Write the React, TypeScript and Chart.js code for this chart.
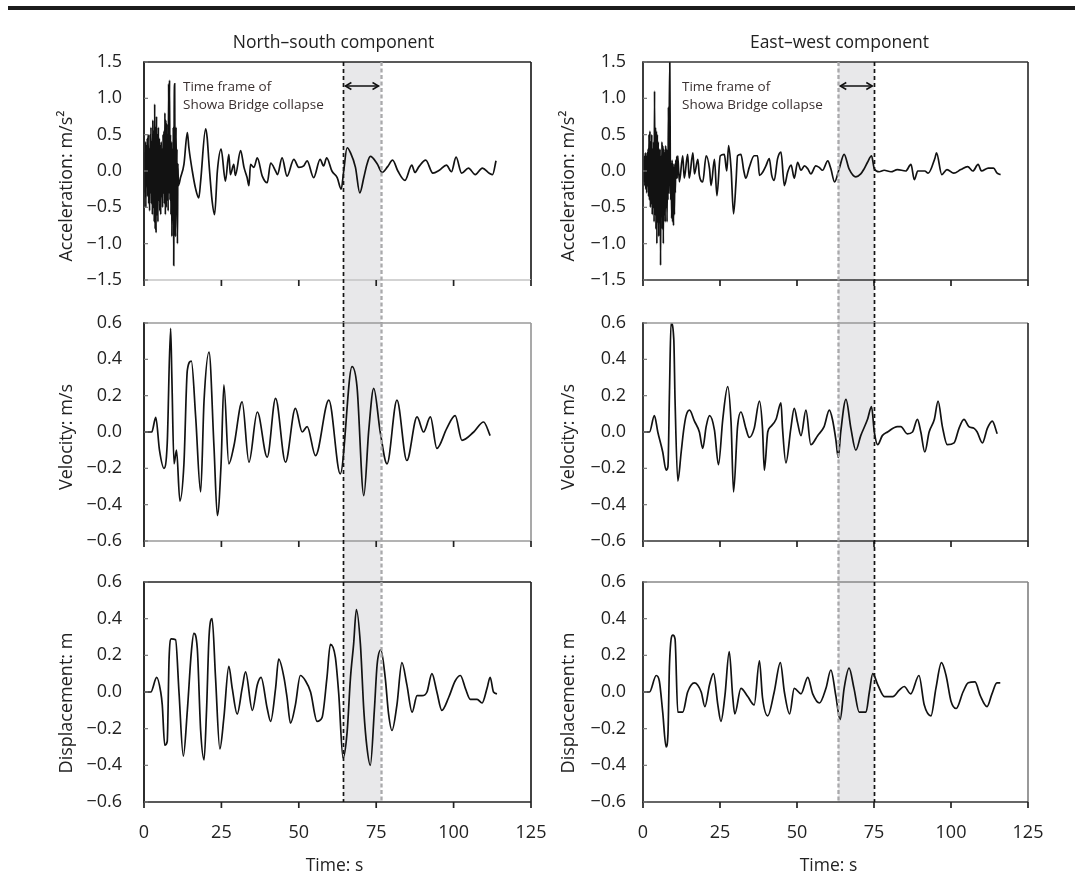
import React, { useEffect, useRef } from "react";
import { Chart, registerables } from "chart.js";

Chart.register(...registerables);

const FONT = "'Open Sans', 'DejaVu Sans', sans-serif";
Chart.defaults.font.family = FONT;

// ---------- axes / tick labels ----------
const timeTicks = [0, 25, 50, 75, 100, 125];
const accTicks = [-1.5, -1.0, -0.5, 0, 0.5, 1.0, 1.5];
const velTicks = [-0.6, -0.4, -0.2, 0, 0.2, 0.4, 0.6];
const dispTicks = [-0.6, -0.4, -0.2, 0, 0.2, 0.4, 0.6];

const columnTitles = ["North\u2013south component", "East\u2013west component"];
const rowTitles = ["Acceleration: m/s\u00b2", "Velocity: m/s", "Displacement: m"];
const timeTitle = "Time: s";
const noteLines = ["Time frame of", "Showa Bridge collapse"];

// time frame of collapse (s)
const nsCollapse = [64.4, 76.4];
const ewCollapse = [63.4, 75.1];

// ---------- North-south series ----------
const nsAccT = [0,0.15,0.3,0.45,0.6,0.75,0.9,1.05,1.2,1.35,1.5,1.65,1.8,1.95,2.1,2.25,2.4,2.55,2.7,2.85,3.0,3.15,3.3,3.45,3.6,3.75,3.9,4.05,4.2,4.35,4.5,4.65,4.8,4.95,5.1,5.25,5.4,5.55,5.7,5.85,6.0,6.15,6.3,6.45,6.6,6.75,6.9,7.05,7.2,7.35,7.5,7.65,7.8,7.95,8.1,8.25,8.4,8.55,8.7,8.85,9.0,9.15,9.3,9.45,9.6,9.75,9.9,10.05,10.2,10.35,10.5,10.65,10.8,10.95,11.1,
  11.8,12.9,14.0,14.5,15.6,16.7,17.7,18.3,19.9,20.4,21.0,22.0,22.8,23.7,24.9,26.3,27.4,27.9,29.0,29.5,31.2,32.3,33.3,33.9,34.4,35.5,36.6,38.2,39.8,40.9,42.5,43.1,44.6,46.2,48.4,50.0,51.6,52.7,54.8,56.9,58.0,59.0,60.7,62.4,63.7,64.5,65.6,66.7,68.3,69.7,71.0,72.0,73.1,75.3,76.9,78.7,80.3,82.0,84.3,86.5,87.5,88.8,91.0,93.3,95.4,97.7,99.3,100.8,102.6,104.8,107.0,109.3,111.5,112.6,113.7];
const nsAccV = [0,0.25,-0.3,0.4,-0.5,0.35,-0.2,0.45,-0.35,0.5,-0.45,0.3,-0.55,0.5,-0.3,0.6,-0.45,0.4,-0.6,0.7,-0.5,0.55,-0.7,0.92,-0.8,0.6,-0.85,0.75,-0.6,0.5,-0.7,0.6,-0.4,0.45,-0.55,0.35,-0.6,0.4,-0.35,0.3,-0.5,0.5,-0.3,0.55,-0.45,0.8,-0.6,0.7,-0.5,0.65,-0.4,0.5,-0.55,1.2,-0.3,1.25,-0.4,0.5,-0.6,0.4,-0.9,0.3,-0.5,0.6,-1.3,0.8,1.2,-0.5,-0.9,0.6,-0.4,0.3,-1.0,0.1,-0.2,
  -0.09,0.09,0.53,0.32,0.0,-0.25,-0.37,-0.14,0.58,0.46,0.1,-0.41,-0.6,0.0,0.3,-0.14,0.23,-0.05,0.09,-0.06,0.28,0.05,-0.09,-0.2,0.09,0.05,0.18,-0.07,-0.16,0.11,0.0,-0.05,0.18,-0.07,0.16,0.05,0.07,0.14,-0.09,0.16,0.07,0.18,0.0,-0.09,-0.25,0.0,0.32,0.25,0.05,-0.3,-0.09,0.09,0.2,0.1,-0.02,0.06,0.15,0.0,-0.13,0.08,-0.02,0.06,0.15,-0.03,0.01,0.08,-0.01,0.19,-0.03,0.04,-0.05,0.04,-0.03,-0.05,0.14];

const nsVelT = [0,2.5,3.8,5.0,6.45,7.5,8.6,9.0,9.7,10.5,11.6,12.9,14.0,15.3,16.7,18.3,19.4,21.0,22.6,23.7,24.9,25.8,27.4,29.0,31.7,33.9,36.6,39.8,42.5,45.7,48.9,51.1,52.7,55.4,59.7,63.4,67.2,68.8,71.0,72.6,74.2,76.3,78.5,81.7,84.9,88.2,90.3,92.5,94.6,97.8,100.5,102.7,106.5,109.7,111.8];
const nsVelV = [0,0,0.08,-0.1,-0.2,-0.065,0.57,0.3,-0.175,-0.1,-0.38,-0.175,0.34,0.39,0.08,-0.33,0.175,0.44,-0.08,-0.46,-0.175,0.26,-0.175,-0.08,0.166,-0.166,0.11,-0.138,0.185,-0.166,0.13,0,0.03,-0.13,0.175,-0.23,0.36,0.25,-0.35,0.01,0.24,0,-0.175,0.175,-0.157,0.083,0,0.083,-0.09,0.02,0.09,-0.046,0,0.055,-0.02];

const nsDispT = [0,2.2,4.1,5.4,5.9,6.7,7.5,8.1,8.8,10.2,11.3,12.7,14.0,15.3,16.1,17.2,18.3,19.4,20.2,21.0,22.0,23.1,24.5,25.8,27.4,28.5,30.1,31.7,32.8,35.0,36.6,37.8,39.8,40.9,42.5,43.5,45.2,46.2,47.3,48.9,50.5,52.2,53.8,55.9,57.5,59.1,60.2,61.8,62.9,64.3,65.6,66.7,67.7,68.6,69.9,71.0,72.0,73.1,74.4,75.3,76.5,77.9,79.0,80.1,81.7,83.3,84.9,86.6,88.2,89.8,91.4,93.0,94.6,96.2,98.4,100.5,102.2,103.8,105.4,107.6,109.2,110.8,111.8,112.9,114.0];
const nsDispV = [0,0,0.08,0,-0.07,-0.29,-0.27,0.18,0.29,0.285,0,-0.35,-0.1,0.22,0.32,0.24,-0.21,-0.37,-0.1,0.3,0.4,0.08,-0.31,-0.14,0.14,0.02,-0.12,0.02,0.11,-0.1,0.04,0.08,-0.09,-0.16,0.02,0.18,0.08,-0.03,-0.17,-0.07,0.09,0.06,0,-0.16,-0.14,0.08,0.26,0.19,-0.01,-0.36,-0.22,0.08,0.26,0.45,0.26,-0.1,-0.3,-0.4,-0.1,0.15,0.23,0.08,-0.12,-0.21,-0.07,0.16,0.04,-0.11,-0.02,-0.02,0,0.1,0,-0.1,-0.03,0.06,0.09,0.02,-0.04,-0.04,-0.06,0.02,0.08,0,-0.01];

// ---------- East-west series ----------
const ewAccT = [0,0.15,0.3,0.45,0.6,0.75,0.9,1.05,1.2,1.35,1.5,1.65,1.8,1.95,2.1,2.25,2.4,2.55,2.7,2.85,3.0,3.15,3.3,3.45,3.6,3.75,3.9,4.05,4.2,4.35,4.5,4.65,4.8,4.95,5.1,5.25,5.4,5.55,5.7,5.85,6.0,6.15,6.3,6.45,6.6,6.75,6.9,7.05,7.2,7.35,7.5,7.65,7.8,7.95,8.1,8.25,8.4,8.55,8.7,8.85,9.0,9.15,9.3,9.45,9.6,9.75,9.9,10.05,10.2,10.35,10.5,10.65,10.8,10.95,11.1,
  11.3,11.8,12.9,13.4,14.5,15.0,16.2,16.7,17.8,18.3,19.4,20.5,21.6,22.1,23.2,24.0,25.1,26.4,27.2,27.8,28.6,29.4,30.2,30.7,31.8,32.7,33.4,34.5,36.1,37.2,37.8,38.8,39.9,41.0,41.8,42.6,43.7,44.8,45.9,47.0,48.1,49.1,50.2,51.3,52.4,53.5,54.5,56.1,57.2,58.3,60.0,61.0,62.2,63.7,65.3,66.9,69.1,70.7,71.8,72.9,74.2,75.1,76.7,78.3,80.5,82.6,85.3,87.0,88.1,89.2,91.5,92.6,94.8,95.3,97.0,98.7,100.9,103.2,105.4,107.1,108.8,109.9,112.1,113.8,115.0,116.1];
const ewAccV = [0,0.15,-0.15,0.2,-0.2,0.25,-0.25,0.2,-0.3,0.25,-0.2,0.3,-0.35,0.5,-0.4,0.55,-0.5,0.4,-0.45,0.5,-0.6,0.3,-0.5,0.4,-0.7,1.1,-0.6,0.6,-0.8,0.55,-1.0,0.5,-0.7,0.4,-0.9,0.3,-0.7,0.3,-1.3,0.2,-0.6,0.4,-0.8,0.35,-1.0,0.3,-0.6,0.25,-0.7,0.35,-0.5,0.3,-0.7,0.2,-0.4,0.88,-0.3,0.9,1.5,0.2,-0.4,0.1,-0.65,0.15,-0.7,0.1,-0.75,0.05,-0.6,0.1,-0.3,0.15,-0.1,0.2,-0.1,
  0.21,-0.15,0.21,-0.1,0.23,-0.1,0.25,-0.04,0.16,-0.06,-0.15,0.21,0.03,-0.2,0.16,-0.34,0.21,0.23,0,0.35,0.03,-0.59,-0.15,0.21,0.23,0.01,-0.1,0.05,0.21,0.21,-0.06,-0.02,0.07,0.17,-0.06,-0.13,0.17,0.26,-0.2,-0.01,0.08,-0.1,0.12,0.01,0.07,0.03,-0.04,0.07,0.05,0.01,0.14,0.03,-0.15,0.03,0.23,0.03,-0.08,-0.04,0.03,0.12,0.21,0.03,-0.01,0.01,-0.01,0.02,0,0.09,-0.12,0,0,-0.03,0.18,0.25,-0.05,0.02,-0.03,0.02,0.06,0,0.09,0,0.04,0.04,-0.03,-0.05];

const ewVelT = [0,2.1,3.7,4.8,6.4,7.5,8.1,8.6,9.1,10.0,10.4,11.3,12.4,13.2,14.0,15.1,16.7,18.3,19.4,20.5,21.6,23.2,24.5,25.9,27.5,28.6,29.4,30.7,31.8,33.4,34.5,36.1,37.8,38.8,39.4,40.5,41.5,43.2,44.8,45.3,46.4,48.0,49.1,50.2,51.3,52.9,54.5,56.7,58.8,60.5,61.5,62.6,63.4,64.2,65.9,67.5,69.1,70.7,72.9,74.2,75.1,76.2,77.7,79.4,82.6,83.7,85.8,87.5,89.1,90.2,91.5,92.9,94.6,95.8,97.2,98.8,101.0,102.6,104.2,105.8,107.5,108.5,110.2,111.8,113.4,115.0];
const ewVelV = [0,0,0.09,0,-0.11,-0.21,-0.19,0.22,0.6,0.51,0.18,-0.27,-0.11,0.01,0.09,0.12,0.06,0,-0.09,0.03,0.09,0.01,-0.18,0.07,0.25,0.05,-0.33,0.03,0.11,0.02,-0.03,0.02,0.17,0.02,-0.21,0,0.03,0.07,0.16,0.02,-0.17,0.02,0.13,0.05,-0.02,0.12,-0.07,-0.02,0.03,0.12,0.07,-0.04,-0.14,0,0.18,0.02,-0.1,-0.02,0.07,0.14,0,-0.07,-0.02,0,0.03,0.03,-0.01,0,0.07,0,-0.11,0,0.07,0.17,0.03,-0.07,-0.06,0.02,0.07,0.03,0.02,0,-0.06,0.02,0.06,-0.01];

const ewDispT = [0,2.1,4.3,5.3,6.4,7.5,8.1,8.6,9.7,10.4,11.3,12.9,14.5,16.7,18.9,20.1,21.6,22.9,24.3,25.3,26.6,28.0,29.1,29.8,31.8,34.0,36.1,37.8,38.8,40.5,42.6,44.6,45.9,47.6,49.1,51.3,53.5,55.1,57.3,59.4,61.0,62.6,64.0,65.3,66.9,68.5,70.2,72.4,73.5,74.6,76.2,78.4,81.1,83.2,84.8,86.9,89.6,91.3,93.5,95.1,96.9,98.4,100.0,101.7,103.9,105.6,107.8,109.5,111.7,113.3,114.9,116.0];
const ewDispV = [0,0,0.09,0.06,-0.11,-0.3,-0.23,0.15,0.31,0.29,-0.11,-0.11,0,0.05,0,-0.08,0.04,0.1,-0.07,-0.16,-0.02,0.22,-0.02,-0.12,0.02,-0.025,-0.07,0.17,-0.03,-0.13,0,0.16,0,-0.12,0.02,-0.01,0.08,-0.01,-0.06,0.02,0.12,-0.02,-0.15,0.02,0.13,0.02,-0.11,-0.11,0,0.1,0.04,-0.025,-0.025,0.01,0.03,-0.01,0.09,-0.07,-0.13,0.02,0.16,0.09,-0.05,-0.09,0,0.05,0.055,-0.02,-0.08,-0.01,0.05,0.05];

// ---------- layout (pixels) ----------
const COLS = [
  { left: 0, w: 560, yAxisW: 144, padR: 29, yTickPad: 22, yTitleX: 67, titleDx: -4, xTitleDx: -3,
    win: nsCollapse, dashKinds: ["black", "grey"] },
  { left: 540, w: 535, yAxisW: 103, padR: 47, yTickPad: 17, yTitleX: 29, titleDx: 4, xTitleDx: -7,
    win: ewCollapse, dashKinds: ["grey", "black"] },
];
const ROWS = [
  { top: 20, h: 303, padT: 42, xAxisH: 43, ticks: accTicks, yDy: 15, extend: true },
  { top: 305, h: 277, padT: 18, xAxisH: 41, ticks: velTicks, yDy: 5, extend: true },
  { top: 564, h: 330, padT: 18, xAxisH: 92, ticks: dispTicks, yDy: 11, extend: false },
];
const BORDERS = [
  [["#222", "#222", "#c4c4c4", "#222"], ["#333", "#333", "#333", "#333"]],
  [["#9a9a9a", "#9a9a9a", "#9a9a9a", "#222"], ["#999", "#333", "#333", "#333"]],
  [["#222", "#222", "#222", "#222"], ["#888", "#888", "#333", "#333"]],
];
const SERIES = [
  [[nsAccT, nsAccV], [ewAccT, ewAccV]],
  [[nsVelT, nsVelV], [ewVelT, ewVelV]],
  [[nsDispT, nsDispV], [ewDispT, ewDispV]],
];

const TEXT = "#222";
const TICK_SIZE = 18;
const TITLE_SIZE = 17.5;

function fmtY(v: number) {
  const s = Math.abs(v) < 1e-9 ? "0.0" : v.toFixed(1);
  return s.replace("-", "\u2212");
}

function line(ctx: CanvasRenderingContext2D, x1: number, y1: number, x2: number, y2: number, color: string, w: number) {
  ctx.save();
  ctx.strokeStyle = color;
  ctx.lineWidth = w;
  ctx.beginPath();
  ctx.moveTo(x1, y1);
  ctx.lineTo(x2, y2);
  ctx.stroke();
  ctx.restore();
}

function makeDeco(p: any) {
  return {
    id: "deco",
    beforeDatasetsDraw(chart: any) {
      const { ctx, chartArea: a } = chart;
      const x = chart.scales.x;
      const x0 = x.getPixelForValue(p.win[0]);
      const x1 = x.getPixelForValue(p.win[1]);
      const yb = p.extend ? chart.height : a.bottom;
      ctx.save();
      ctx.fillStyle = "#e8e8ea";
      ctx.fillRect(x0, a.top, x1 - x0, yb - a.top);
      ctx.restore();
    },
    afterDatasetsDraw(chart: any) {
      const { ctx, chartArea: a } = chart;
      const x = chart.scales.x;
      const y = chart.scales.y;
      const yb = p.extend ? chart.height : a.bottom;
      // borders
      const [bt, br, bb, bl] = p.border;
      line(ctx, a.left, a.top, a.right, a.top, bt, 1.7);
      line(ctx, a.right, a.top, a.right, a.bottom, br, 1.7);
      line(ctx, a.left, a.bottom, a.right, a.bottom, bb, 1.7);
      line(ctx, a.left, a.top - 0.8, a.left, a.bottom + 0.8, bl, 1.9);
      // tick marks
      timeTicks.forEach((t) => {
        const px = x.getPixelForValue(t);
        line(ctx, px, a.bottom, px, a.bottom + 6, "#222", 1.7);
      });
      p.ticks.forEach((v: number) => {
        const py = y.getPixelForValue(v);
        line(ctx, a.left, py, a.left + 4, py, "#777", 1.2);
      });
      // dashed collapse lines
      p.win.forEach((t: number, i: number) => {
        const px = Math.round(x.getPixelForValue(t)) + 0.5;
        ctx.save();
        if (p.dashKinds[i] === "black") {
          ctx.strokeStyle = "#141414";
          ctx.lineWidth = 1.7;
          ctx.setLineDash([4, 3]);
        } else {
          ctx.strokeStyle = "#a9a9ab";
          ctx.lineWidth = 2.3;
          ctx.setLineDash([4, 2.5]);
        }
        ctx.beginPath();
        ctx.moveTo(px, a.top);
        ctx.lineTo(px, yb);
        ctx.stroke();
        ctx.restore();
      });
      // y title
      ctx.save();
      ctx.fillStyle = TEXT;
      ctx.textAlign = "center";
      ctx.textBaseline = "middle";
      ctx.font = `${TICK_SIZE}px ${FONT}`;
      ctx.translate(p.yTitleX, (a.top + a.bottom) / 2 + p.yDy);
      ctx.rotate(-Math.PI / 2);
      ctx.fillText(p.yTitle, 0, 0);
      ctx.restore();

      const cx = (a.left + a.right) / 2;
      if (p.title) {
        ctx.save();
        ctx.fillStyle = TEXT;
        ctx.textAlign = "center";
        ctx.textBaseline = "middle";
        ctx.font = `${TITLE_SIZE}px ${FONT}`;
        ctx.fillText(p.title, cx + p.titleDx, a.top - 19);
        ctx.restore();
        // annotation
        ctx.save();
        ctx.fillStyle = "#3a3030";
        ctx.textAlign = "left";
        ctx.textBaseline = "middle";
        ctx.font = `13.5px ${FONT}`;
        ctx.fillText(noteLines[0], a.left + 39, a.top + 25);
        ctx.fillText(noteLines[1], a.left + 39, a.top + 43);
        ctx.restore();
        // arrow
        const x0 = x.getPixelForValue(p.win[0]) + 2;
        const x1 = x.getPixelForValue(p.win[1]) - 2;
        const ay = a.top + 24;
        line(ctx, x0, ay, x1, ay, "#111", 1.5);
        ctx.save();
        ctx.strokeStyle = "#111";
        ctx.lineWidth = 1.5;
        ctx.beginPath();
        ctx.moveTo(x0 + 6, ay - 3.5);
        ctx.lineTo(x0, ay);
        ctx.lineTo(x0 + 6, ay + 3.5);
        ctx.moveTo(x1 - 6, ay - 3.5);
        ctx.lineTo(x1, ay);
        ctx.lineTo(x1 - 6, ay + 3.5);
        ctx.stroke();
        ctx.restore();
      }
      if (p.xTitle) {
        ctx.save();
        ctx.fillStyle = TEXT;
        ctx.textAlign = "center";
        ctx.textBaseline = "middle";
        ctx.font = `${TITLE_SIZE}px ${FONT}`;
        ctx.fillText(p.xTitle, cx + p.xTitleDx, a.bottom + 64);
        ctx.restore();
      }
    },
  };
}

const PANELS: any[] = [];
ROWS.forEach((r, ri) => {
  COLS.forEach((c, ci) => {
    PANELS.push({
      left: c.left, top: r.top, w: c.w, h: r.h,
      padT: r.padT, padR: c.padR, xAxisH: r.xAxisH, yAxisW: c.yAxisW, yTickPad: c.yTickPad,
      ticks: r.ticks, yDy: r.yDy, extend: r.extend,
      yTitle: rowTitles[ri], yTitleX: c.yTitleX,
      title: ri === 0 ? columnTitles[ci] : null, titleDx: c.titleDx,
      xTitle: ri === 2 ? timeTitle : null, xTitleDx: c.xTitleDx,
      showX: ri === 2,
      win: c.win, dashKinds: c.dashKinds,
      border: BORDERS[ri][ci],
      T: SERIES[ri][ci][0], V: SERIES[ri][ci][1],
    });
  });
});

function Panel({ p }: { p: any }) {
  const ref = useRef<HTMLCanvasElement>(null);
  useEffect(() => {
    const n = Math.min(p.T.length, p.V.length);
    const pts = [];
    for (let i = 0; i < n; i++) pts.push({ x: p.T[i], y: p.V[i] });
    const chart = new Chart(ref.current as HTMLCanvasElement, {
      type: "line",
      data: {
        datasets: [
          {
            data: pts,
            borderColor: "#121212",
            borderWidth: 1.7,
            pointRadius: 0,
            fill: false,
            cubicInterpolationMode: "monotone",
          } as any,
        ],
      },
      options: {
        responsive: false,
        animation: false,
        events: [],
        layout: { padding: { left: 0, right: p.padR, top: p.padT, bottom: 0 } },
        plugins: { legend: { display: false }, tooltip: { enabled: false }, title: { display: false } },
        scales: {
          x: {
            type: "linear",
            min: 0,
            max: 125,
            grid: { display: false, drawTicks: false },
            border: { display: false },
            afterFit: (s: any) => {
              s.height = p.xAxisH;
              s.paddingLeft = 0;
              s.paddingRight = 0;
            },
            afterBuildTicks: (s: any) => {
              s.ticks = timeTicks.map((v) => ({ value: v }));
            },
            ticks: {
              display: p.showX,
              padding: 20,
              color: TEXT,
              font: { family: FONT, size: TICK_SIZE },
              maxRotation: 0,
              autoSkip: false,
              callback: (v: any) => String(v),
            },
          },
          y: {
            type: "linear",
            min: p.ticks[0],
            max: p.ticks[p.ticks.length - 1],
            grid: { display: false, drawTicks: false },
            border: { display: false },
            afterFit: (s: any) => {
              s.width = p.yAxisW;
              s.paddingTop = 0;
              s.paddingBottom = 0;
            },
            afterBuildTicks: (s: any) => {
              s.ticks = p.ticks.map((v: number) => ({ value: v }));
            },
            ticks: {
              padding: p.yTickPad,
              color: TEXT,
              font: { family: FONT, size: TICK_SIZE },
              callback: (v: any) => fmtY(Number(v)),
            },
          },
        },
      } as any,
      plugins: [makeDeco(p)],
    });
    return () => chart.destroy();
  }, []);
  return (
    <canvas
      ref={ref}
      width={p.w}
      height={p.h}
      style={{ position: "absolute", left: p.left, top: p.top, width: p.w, height: p.h }}
    />
  );
}

export default function App() {
  return (
    <div style={{ position: "absolute", left: 0, top: 0, width: 1075, height: 894, background: "#fff", overflow: "hidden" }}>
      <div style={{ position: "absolute", left: 8, top: 6, width: 1067, height: 4, background: "#1c1c1c" }} />
      {PANELS.map((p, i) => (
        <Panel key={i} p={p} />
      ))}
    </div>
  );
}
